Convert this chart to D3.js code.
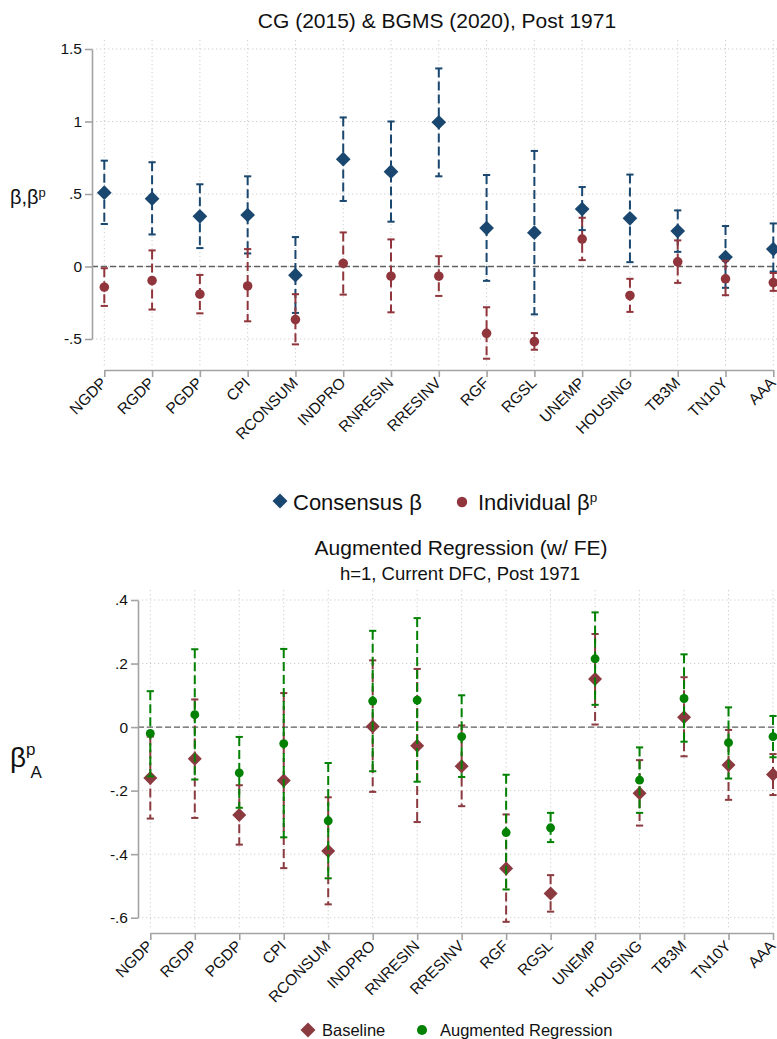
<!DOCTYPE html>
<html>
<head>
<meta charset="utf-8">
<script src="https://cdn.jsdelivr.net/npm/d3@7"></script>
<style>
  html, body { margin: 0; padding: 0; background: #fff; }
  svg { display: block; font-family: "Liberation Sans", Arial, Helvetica, sans-serif; }
</style>
</head>
<body>
<script>
// Variables (shared by both panels)
const categories = ["NGDP", "RGDP", "PGDP", "CPI", "RCONSUM", "INDPRO", "RNRESIN", "RRESINV",
  "RGF", "RGSL", "UNEMP", "HOUSING", "TB3M", "TN10Y", "AAA"];

// Panel 1: consensus vs individual coefficients with 95% bands
const consensusBeta = [0.509, 0.468, 0.346, 0.355, -0.06, 0.74, 0.654, 0.995, 0.265, 0.233, 0.396, 0.332, 0.244, 0.065, 0.12];
const consensusLo   = [0.293, 0.221, 0.127, 0.09, -0.32, 0.452, 0.309, 0.622, -0.099, -0.33, 0.251, 0.03, 0.101, -0.147, -0.035];
const consensusHi   = [0.730, 0.719, 0.567, 0.622, 0.203, 1.028, 1.0, 1.366, 0.631, 0.797, 0.548, 0.634, 0.387, 0.279, 0.297];
const individualBeta = [-0.143, -0.097, -0.191, -0.134, -0.366, 0.021, -0.067, -0.067, -0.461, -0.518, 0.189, -0.2, 0.032, -0.085, -0.111];
const individualLo   = [-0.272, -0.297, -0.323, -0.378, -0.537, -0.194, -0.316, -0.203, -0.636, -0.574, 0.044, -0.313, -0.113, -0.198, -0.168];
const individualHi   = [-0.012, 0.111, -0.058, 0.12, -0.191, 0.235, 0.187, 0.071, -0.281, -0.459, 0.336, -0.085, 0.18, 0.04, -0.045];
const topTicks = [-0.5, 0, 0.5, 1, 1.5];
const topTickLabels = ["-.5", "0", ".5", "1", "1.5"];

// Panel 2: baseline vs augmented regression coefficients
const baselineBeta = [-0.16, -0.10, -0.277, -0.168, -0.39, 0.002, -0.059, -0.123, -0.445, -0.524, 0.151, -0.208, 0.031, -0.119, -0.149];
const baselineLo   = [-0.288, -0.286, -0.37, -0.444, -0.558, -0.204, -0.299, -0.249, -0.613, -0.581, 0.008, -0.31, -0.092, -0.229, -0.214];
const baselineHi   = [-0.03, 0.087, -0.183, 0.107, -0.221, 0.21, 0.183, 0.005, -0.275, -0.466, 0.293, -0.104, 0.157, -0.009, -0.085];
const augmentedBeta = [-0.02, 0.039, -0.144, -0.052, -0.295, 0.082, 0.085, -0.03, -0.332, -0.317, 0.215, -0.167, 0.09, -0.049, -0.03];
const augmentedLo   = [-0.155, -0.165, -0.254, -0.347, -0.476, -0.139, -0.172, -0.157, -0.511, -0.362, 0.07, -0.27, -0.046, -0.162, -0.095];
const augmentedHi   = [0.113, 0.245, -0.031, 0.246, -0.113, 0.303, 0.343, 0.1, -0.15, -0.27, 0.361, -0.064, 0.229, 0.062, 0.035];
const bottomTicks = [-0.6, -0.4, -0.2, 0, 0.2, 0.4];
const bottomTickLabels = ["-.6", "-.4", "-.2", "0", ".2", ".4"];

const W = 777, H = 1039;
const NAVY = "#1a476f", MAROON = "#90353b", BASE = "#8b3a40", GREEN = "#038103";
const AXIS = "#a3a3a3", GRID = "#cfcfcf";

const svg = d3.select("body").append("svg")
  .attr("width", W).attr("height", H)
  .attr("viewBox", `0 0 ${W} ${H}`);
svg.append("rect").attr("width", W).attr("height", H).attr("fill", "#fff");

function drawPanel(p) {
  const g = svg.append("g");
  const x = d3.scalePoint().domain(categories).range(p.xRange);
  const y = d3.scaleLinear().domain(p.yDomain).range(p.yRange);

  // grid
  g.append("g").selectAll("line.h").data(p.ticks).join("line")
    .attr("x1", p.axisX).attr("x2", W + 20)
    .attr("y1", d => y(d)).attr("y2", d => y(d))
    .attr("stroke", GRID).attr("stroke-width", 1).attr("stroke-dasharray", "1.3,2.7");
  g.append("g").selectAll("line.v").data(categories).join("line")
    .attr("x1", d => x(d)).attr("x2", d => x(d))
    .attr("y1", p.plotTop).attr("y2", p.plotBottom)
    .attr("stroke", GRID).attr("stroke-width", 1).attr("stroke-dasharray", "1.3,2.7");

  // reference line at zero
  g.append("line")
    .attr("x1", p.axisX).attr("x2", W + 20)
    .attr("y1", y(0)).attr("y2", y(0))
    .attr("stroke", "#606060").attr("stroke-width", 1.3).attr("stroke-dasharray", "6,3");

  // y axis
  const yAx = g.append("g").attr("transform", `translate(${p.axisX},0)`)
    .call(d3.axisLeft(y).tickValues(p.ticks).tickFormat((d, i) => p.tickLabels[i])
      .tickSize(7).tickSizeOuter(0).tickPadding(3));
  yAx.select(".domain").attr("stroke", AXIS).attr("stroke-width", 1.6);
  yAx.selectAll(".tick line").attr("stroke", AXIS).attr("stroke-width", 1.6);
  yAx.selectAll(".tick text").attr("fill", "#111").style("font-size", "15.5px")
    .style("font-family", "Liberation Sans, Arial, sans-serif");

  // x axis
  const xAx = g.append("g").attr("transform", `translate(0,${p.axisY})`)
    .call(d3.axisBottom(x).tickSize(7).tickSizeOuter(0).tickPadding(0));
  xAx.select(".domain").attr("stroke", AXIS).attr("stroke-width", 1.6);
  xAx.selectAll(".tick line").attr("stroke", AXIS).attr("stroke-width", 1.6);
  xAx.selectAll(".tick text")
    .attr("fill", "#111").attr("y", 0).attr("dy", "0.35em")
    .attr("transform", "translate(-1,10) rotate(-45)")
    .attr("text-anchor", "end")
    .style("font-size", "15.5px")
    .style("font-family", "Liberation Sans, Arial, sans-serif");

  // series: error bars then markers
  p.series.forEach(s => {
    const sg = g.append("g");
    const idx = d3.range(categories.length);
    sg.selectAll("line.bar").data(idx).join("line")
      .attr("x1", i => x(categories[i])).attr("x2", i => x(categories[i]))
      .attr("y1", i => y(s.hi[i])).attr("y2", i => y(s.lo[i]))
      .attr("stroke", s.color).attr("stroke-width", 2).attr("stroke-dasharray", "9,4");
    ["lo", "hi"].forEach(k => {
      sg.selectAll("line.cap" + k).data(idx).join("line")
        .attr("x1", i => x(categories[i]) - 3.6).attr("x2", i => x(categories[i]) + 3.6)
        .attr("y1", i => y(s[k][i])).attr("y2", i => y(s[k][i]))
        .attr("stroke", s.color).attr("stroke-width", 2);
    });
    sg.selectAll("path.mk").data(idx).join("path")
      .attr("d", s.shape === "diamond"
        ? d3.symbol(d3.symbolSquare, s.size)()
        : d3.symbol(d3.symbolCircle, s.size)())
      .attr("transform", i => `translate(${x(categories[i])},${y(s.est[i])})` + (s.shape === "diamond" ? " rotate(45)" : ""))
      .attr("fill", s.color);
  });
}

// ---- Panel 1 ----
svg.append("text").attr("x", 437).attr("y", 28).attr("text-anchor", "middle")
  .style("font-size", "21px").attr("fill", "#111")
  .text("CG (2015) & BGMS (2020), Post 1971");

const yt1 = svg.append("text").attr("x", 10).attr("y", 204).style("font-size", "20px").attr("fill", "#111");
yt1.append("tspan").text("β,β");
yt1.append("tspan").attr("dy", -7).style("font-size", "13px").text("p");

drawPanel({
  xRange: [104.3, 773.3], yDomain: [-0.5, 1.5], yRange: [339, 49],
  axisX: 92, axisY: 370, plotTop: 40, plotBottom: 367,
  ticks: topTicks, tickLabels: topTickLabels,
  series: [
    { est: consensusBeta, lo: consensusLo, hi: consensusHi, color: NAVY, shape: "diamond", size: 108 },
    { est: individualBeta, lo: individualLo, hi: individualHi, color: MAROON, shape: "circle", size: 72 }
  ]
});

// legend 1
const lg1 = svg.append("g");
lg1.append("path").attr("d", d3.symbol(d3.symbolSquare, 112)())
  .attr("transform", "translate(280,501) rotate(45)").attr("fill", NAVY);
lg1.append("text").attr("x", 293).attr("y", 510).style("font-size", "22px").attr("fill", "#111").text("Consensus β");
lg1.append("path").attr("d", d3.symbol(d3.symbolCircle, 85)())
  .attr("transform", "translate(462,502)").attr("fill", MAROON);
const lt1 = lg1.append("text").attr("x", 478).attr("y", 510).style("font-size", "22px").attr("fill", "#111");
lt1.append("tspan").text("Individual β");
lt1.append("tspan").attr("dy", -8).style("font-size", "13.5px").text("p");

// ---- Panel 2 ----
svg.append("text").attr("x", 461).attr("y", 555).attr("text-anchor", "middle")
  .style("font-size", "21px").attr("fill", "#111")
  .text("Augmented Regression (w/ FE)");
svg.append("text").attr("x", 460).attr("y", 580).attr("text-anchor", "middle")
  .style("font-size", "18.5px").attr("fill", "#111")
  .text("h=1, Current DFC, Post 1971");

const yt2 = svg.append("text").attr("x", 10).attr("y", 767).style("font-size", "28px").attr("fill", "#111");
yt2.append("tspan").text("β");
yt2.append("tspan").attr("dy", -12).style("font-size", "17px").text("p");
yt2.append("tspan").attr("dy", 23).attr("dx", -5).style("font-size", "17px").text("A");

drawPanel({
  xRange: [150.3, 773], yDomain: [-0.6, 0.4], yRange: [917.7, 600],
  axisX: 138, axisY: 933, plotTop: 590, plotBottom: 930,
  ticks: bottomTicks, tickLabels: bottomTickLabels,
  series: [
    { est: baselineBeta, lo: baselineLo, hi: baselineHi, color: BASE, shape: "diamond", size: 98 },
    { est: augmentedBeta, lo: augmentedLo, hi: augmentedHi, color: GREEN, shape: "circle", size: 62 }
  ]
});

// legend 2
const lg2 = svg.append("g");
lg2.append("path").attr("d", d3.symbol(d3.symbolSquare, 112)())
  .attr("transform", "translate(308,1030) rotate(45)").attr("fill", BASE);
lg2.append("text").attr("x", 322).attr("y", 1036).style("font-size", "16.5px").attr("fill", "#111").text("Baseline");
lg2.append("path").attr("d", d3.symbol(d3.symbolCircle, 80)())
  .attr("transform", "translate(422,1030)").attr("fill", GREEN);
lg2.append("text").attr("x", 440).attr("y", 1036).style("font-size", "16.5px").attr("fill", "#111").text("Augmented Regression");
</script>
</body>
</html>
